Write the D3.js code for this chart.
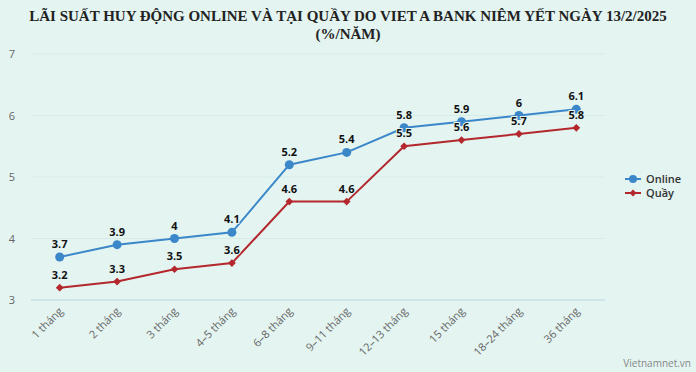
<!DOCTYPE html>
<html><head><meta charset="utf-8">
<script src="https://cdn.jsdelivr.net/npm/d3@7"></script>
<style>html,body{margin:0;padding:0;background:#e3f4f1;}svg{display:block;}</style>
</head><body><svg id="c" width="696" height="372"></svg>
<script>
const categories = ["1 tháng","2 tháng","3 tháng","4–5 tháng","6–8 tháng","9–11 tháng","12–13 tháng","15 tháng","18–24 tháng","36 tháng"];
const online = [3.7,3.9,4,4.1,5.2,5.4,5.8,5.9,6,6.1];
const quay = [3.2,3.3,3.5,3.6,4.6,4.6,5.5,5.6,5.7,5.8];
const yTicks = [3,4,5,6,7];
const seriesNames = ["Online","Quầy"];
const colors = ["#3b87c9","#b3272d"];

const svg = d3.select("#c");
svg.append("rect").attr("width",696).attr("height",372).attr("fill","#e3f4f1");

const x = d3.scalePoint().domain(categories).range([31,605]).padding(0.5);
const y = d3.scaleLinear().domain([3,7]).range([300,54]);

// title
const t = svg.append("text").attr("text-anchor","middle")
  .attr("font-family","'Liberation Serif','Times New Roman',serif")
  .attr("font-weight","bold").attr("font-size",15).attr("fill","#222");
t.append("tspan").attr("x",348).attr("y",21).text("LÃI SUẤT HUY ĐỘNG ONLINE VÀ TẠI QUẦY DO VIET A BANK NIÊM YẾT NGÀY 13/2/2025");
t.append("tspan").attr("x",348).attr("y",39).text("(%/NĂM)");

// grid
svg.append("g").selectAll("line").data(yTicks.filter(d=>d!==3)).join("line")
  .attr("x1",31).attr("x2",605).attr("y1",d=>y(d)).attr("y2",d=>y(d))
  .attr("stroke","#d6ece8").attr("stroke-width",1);
svg.append("line").attr("x1",31).attr("x2",605).attr("y1",y(3)).attr("y2",y(3))
  .attr("stroke","#bcd6e2").attr("stroke-width",1);

// y labels
svg.append("g").selectAll("text").data(yTicks).join("text")
  .attr("x",12).attr("y",d=>y(d)+4).attr("text-anchor","middle")
  .attr("font-family","'Open Sans',sans-serif").attr("font-size",11).attr("fill","#666")
  .text(d=>d);

// x labels
svg.append("g").selectAll("text").data(categories).join("text")
  .attr("transform",d=>`translate(${x(d)+4},${312}) rotate(-45)`)
  .attr("text-anchor","end")
  .attr("font-family","'Open Sans',sans-serif").attr("font-size",11).attr("fill","#666")
  .text(d=>d);

const series = [online, quay];
const line = d3.line().x((d,i)=>x(categories[i])).y(d=>y(d));
series.forEach((s,k)=>{
  svg.append("path").datum(s).attr("d",line).attr("fill","none")
    .attr("stroke",colors[k]).attr("stroke-width",2);
});
// markers
svg.append("g").selectAll("circle").data(online).join("circle")
  .attr("cx",(d,i)=>x(categories[i])).attr("cy",d=>y(d)).attr("r",4.5).attr("fill",colors[0]);
const diamond = d3.symbol().type(d3.symbolSquare).size(30);
svg.append("g").selectAll("path").data(quay).join("path")
  .attr("d",diamond).attr("transform",(d,i)=>`translate(${x(categories[i])},${y(d)}) rotate(45)`).attr("fill",colors[1]);

// data labels
series.forEach((s,k)=>{
  svg.append("g").selectAll("text").data(s).join("text")
    .attr("x",(d,i)=>x(categories[i])).attr("y",d=>y(d)-9)
    .attr("text-anchor","middle")
    .attr("font-family","'Open Sans',sans-serif").attr("font-weight","bold").attr("font-size",11).attr("fill","#111")
    .attr("stroke","#e3f4f1").attr("stroke-width",2).attr("paint-order","stroke")
    .text(d=>d);
});

// legend
const lg = svg.append("g").attr("transform","translate(625,179)");
seriesNames.forEach((n,k)=>{
  const g = lg.append("g").attr("transform",`translate(0,${k*14})`);
  g.append("line").attr("x1",0).attr("x2",16).attr("stroke",colors[k]).attr("stroke-width",2);
  if(k===0) g.append("circle").attr("cx",8).attr("r",4).attr("fill",colors[k]);
  else g.append("path").attr("d",d3.symbol().type(d3.symbolSquare).size(24)).attr("transform","translate(8,0) rotate(45)").attr("fill",colors[k]);
  g.append("text").attr("x",21).attr("y",4).attr("font-family","'Open Sans',sans-serif")
    .attr("font-weight","600").attr("font-size",11).attr("fill","#333").text(n);
});

// watermark
svg.append("text").attr("x",691).attr("y",367).attr("text-anchor","end")
  .attr("font-family","'Open Sans',sans-serif").attr("font-size",10).attr("fill","#888").text("Vietnamnet.vn");
</script></body></html>
